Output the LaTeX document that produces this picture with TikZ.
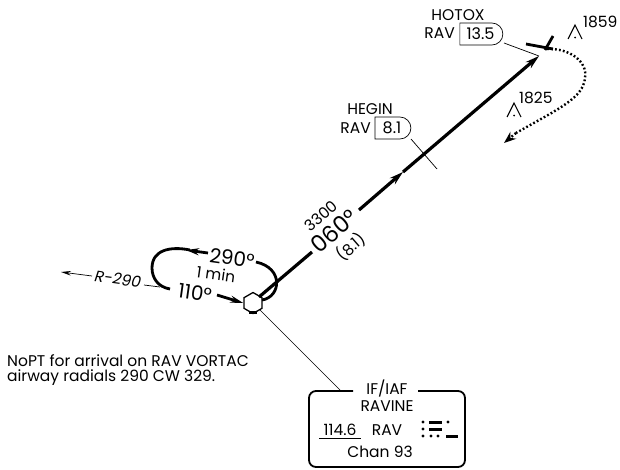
\documentclass[tikz,border=0pt]{standalone}
\usepackage{fontspec}
\setmainfont{Poppins}
\usetikzlibrary{arrows.meta,shapes.geometric,shapes.misc,calc}
\tikzset{
 lbl/.style={inner sep=0pt,font=\fontsize{15.5}{15.5}\selectfont},
 lblb/.style={inner sep=0pt,font=\fontsize{20}{20}\selectfont},
 heavy/.style={line width=2.8pt},
 track/.style={line width=3.2pt},
 thinl/.style={line width=0.7pt},
 dme/.style={rounded rectangle,rounded rectangle west arc=none,draw,line width=0.7pt,inner sep=0pt,minimum height=22pt,font=\fontsize{16}{16}\selectfont},
 tip/.style={-{Stealth[length=14pt,width=8pt]}},
 dots/.style={line width=2.4pt,dash pattern=on 1.8pt off 2.2pt},
}
\newcommand{\spot}[1]{\draw[line width=1.1pt] ($(#1)+(-7,7)$) -- ($(#1)+(0,-7)$) -- ($(#1)+(7,7)$); \fill ($(#1)+(0,5.5)$) circle (1);}
\begin{document}
\begin{tikzpicture}[x=1pt,y=-1pt]
\useasboundingbox (0,0) rectangle (620,469);
\coordinate (fixp) at (539,56);
\node[regular polygon,regular polygon sides=6,shape border rotate=30,draw,line width=1.3pt,minimum size=21pt,inner sep=0pt] (vor) at (253,303) {};
\fill (249,311) rectangle (257,314);
\coordinate (gapa) at (312,252);
\coordinate (gapb) at (359,210);
\coordinate (midarr) at (403,172);
% track
\draw[track] (259,297) -- (gapa);
\draw[track,tip] (gapb) -- (midarr);
\draw[track,tip] (midarr) -- (fixp);
% HEGIN
\draw[thinl] (411,139) -- (437,169);
\node[lbl] (heginn) at (370,109) {HEGIN};
\node[lbl,anchor=east] (heginr) at (371,128) {RAV};
\node[dme,minimum width=36pt] (heginb) at (392,128) {8.1};
% HOTOX
\node[lbl] (hotoxn) at (458,15) {HOTOX};
\node[lbl,anchor=east] (hotoxr) at (455,33) {RAV};
\node[dme,minimum width=43pt] (hotoxb) at (480.5,34) {13.5};
\draw[thinl] (504,43) -- (fixp);
\draw[heavy] (526,44) -- (553,49);
\draw[heavy] (545,50) -- (553,36);
% dotted
\draw[dots] (547,49) .. controls (570,48) and (588,62) .. (585,78) .. controls (583,98) and (560,108) .. (516,133);
\draw[dots,-{Stealth[length=12pt,width=9pt]}] (516,133) -- (504,143);
% spots
\spot{575,32}
\node[lbl,anchor=west] (s1) at (583,22) {1859};
\spot{514,110}
\node[lbl,anchor=west] (s2) at (519,98) {1825};
% track labels
\node[lbl,rotate=41] (alt) at (321,216) {3300};
\node[lblb,font=\fontsize{23}{23}\selectfont,rotate=41] (crs) at (334,231) {060°};
\node[lbl,rotate=41] (dist) at (351,247) {(8.1)};
% holding
\draw[heavy] (262,300) .. controls (281,297) and (284,268) .. (256,262);
\node[lblb,rotate=-8] (t290) at (232,258) {290°};
\draw[heavy,-{Stealth[length=13pt,width=7pt]}] (208,253) -- (186,250);
\draw[heavy] (190,250) .. controls (170,246) and (152,250) .. (152,268) .. controls (152,278) and (158,287) .. (170,289);
\node[lblb,rotate=-8] (t110) at (195,293) {110°};
\node[lbl,rotate=-8] (tmin) at (216,274) {1 min};
\draw[heavy,-{Stealth[length=13pt,width=7pt]}] (217,295) -- (vor.west);
% R-290
\node[lbl,rotate=-8] (rad) at (118,279) {\textit{R-290}};
\draw[thinl,-{Stealth[length=10pt,width=4.5pt]}] (92,276) -- (61,272);
\draw[thinl] (144,285) -- (160,287);
% note
\node[lbl,anchor=west] (n1) at (7,361) {NoPT for arrival on RAV VORTAC};
\node[lbl,anchor=west] (n2) at (7,378) {airway radials 290 CW 329.};
% info box
\coordinate (ba) at (353,391);
\coordinate (bb) at (418,391);
\draw[line width=1.8pt,rounded corners=7pt] (ba) -- (309,391) -- (309,467) -- (465,467) -- (465,391) -- (bb);
\draw[thinl] (vor.south east) -- (340,390);
\node[lbl] (b1) at (387,389) {IF/IAF};
\node[lbl] (b2) at (387,406) {RAVINE};
\node[lbl] (b3) at (340,430) {114.6};
\draw[thinl] (319,438) -- (361,438);
\node[lbl] (b4) at (387,430) {RAV};
\node[lbl] (b5) at (380,452) {Chan 93};
\foreach \p in {(423,422),(448,422),(423,429),(423,436),(431,436),(438,436)} \fill \p circle (1.6);
\fill (429,420.5) rectangle (442,423.5);
\fill (429,427.5) rectangle (442,430.5);
\fill (446,434.5) rectangle (458,437.5);
\end{tikzpicture}
\end{document}
